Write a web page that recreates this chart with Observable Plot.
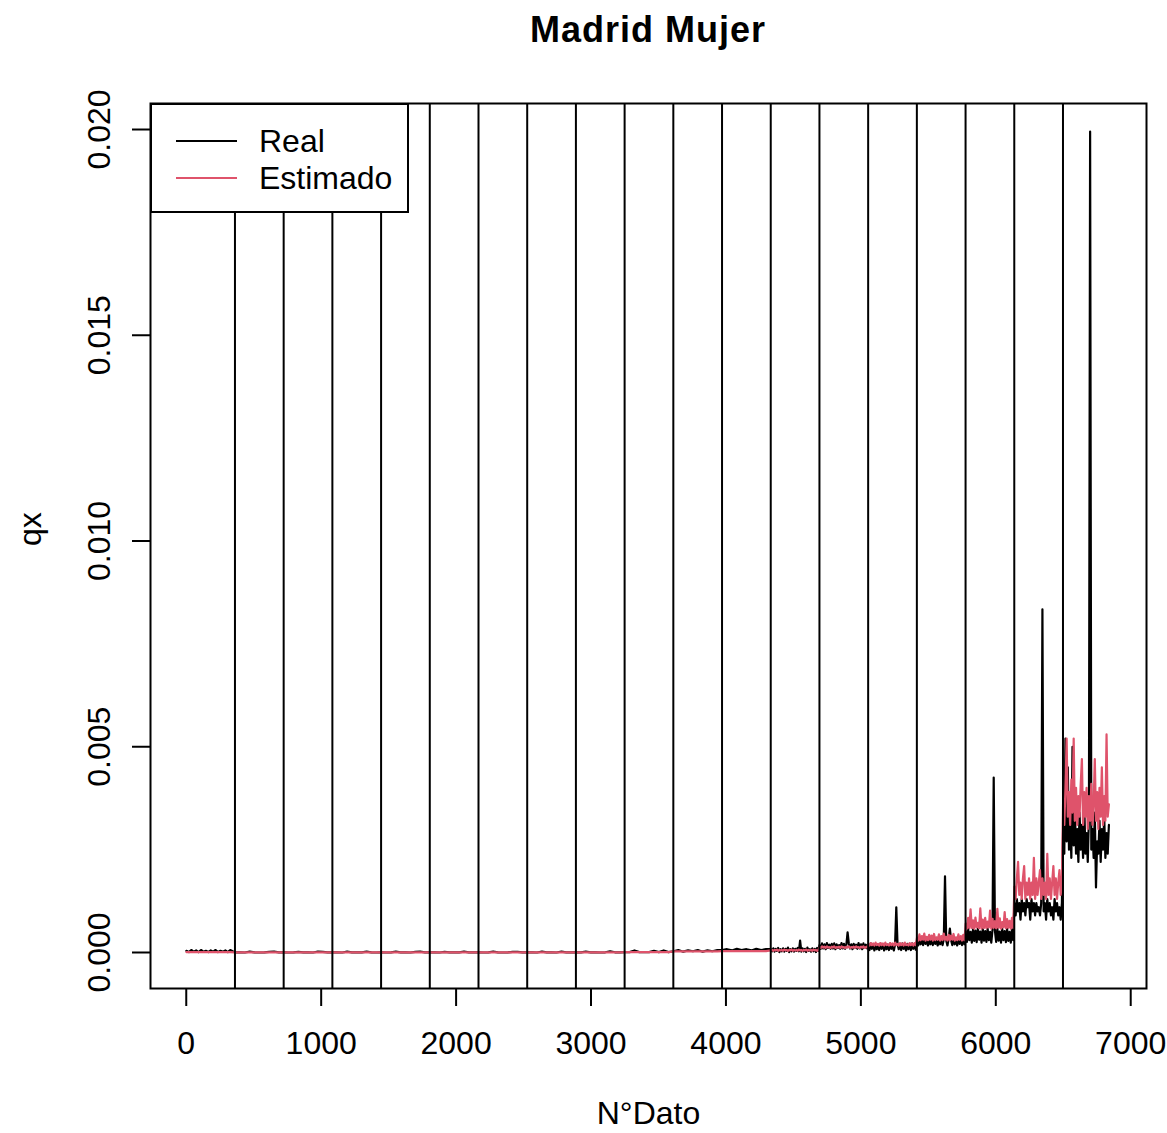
<!DOCTYPE html>
<html>
<head>
<meta charset="utf-8">
<script src="https://cdn.jsdelivr.net/npm/d3@7"></script>
<script src="https://cdn.jsdelivr.net/npm/@observablehq/plot@0.6"></script>
<style>
  body { margin: 0; background: #fff; font-family: "Liberation Sans", Arial, sans-serif; }
  #wrap { position: relative; width: 1167px; height: 1133px; overflow: hidden; }
  #title { height: 60px; line-height: 60px; padding-left: 150px; padding-right: 21px; text-align: center;
           font-weight: bold; font-size: 36px; letter-spacing: 1px; color: #000; }
  #legend { position: absolute; left: 150px; top: 103px; width: 259px; height: 110px; box-sizing: border-box;
            border: 2px solid #000; background: #fff; }
  .lline { position: absolute; left: 24px; width: 61px; height: 0; border-top: 2px solid; }
  .ltext { position: absolute; left: 107px; font-size: 32px; line-height: 36px; color: #000; }
</style>
</head>
<body>
<div id="wrap">
  <div id="title">Madrid Mujer</div>
  <div id="chart"></div>
  <div id="legend">
    <div class="lline" style="top:35px;border-color:#000"></div>
    <div class="ltext" style="top:18px">Real</div>
    <div class="lline" style="top:72px;border-color:#DF536B"></div>
    <div class="ltext" style="top:55px">Estimado</div>
  </div>
</div>
<script>
// ---- data (qx values written as qx × 10^4) ----
const xTicks = [0, 1000, 2000, 3000, 4000, 5000, 6000, 7000];
const yTicks = [0, 0.005, 0.010, 0.015, 0.020];
const vlines = [361, 722, 1083, 1444, 1805, 2166, 2527, 2888, 3249, 3610, 3971, 4332, 4693, 5054, 5415, 5776, 6137, 6498];
const blockStart = [0, 361, 722, 1083, 1444, 1805, 2166, 2527, 2888, 3249, 3610, 3971, 4332, 4693, 5054, 5415, 5776, 6137, 6498];
const blockEnd   = [361, 722, 1083, 1444, 1805, 2166, 2527, 2888, 3249, 3610, 3971, 4332, 4693, 5054, 5415, 5776, 6137, 6498, 6846];

const realBlocks = [
  [0.4,0.1,0.6,0.2,0.5,0.1,0.6,0.2,0.4,0.1,0.5,0.2,0.6,0.1,0.4,0.2,0.5,0.1,0.6,0.3],
  [0.05,0.05,0,0.2,0.05,0,0.05,0.15,0.2,0.05],
  [0.05,0,0.05,0.15,0.05,0.05,0,0.2,0.15,0.05],
  [0.05,0.05,0,0.2,0.05,0.05,0.05,0.2,0.05,0],
  [0.05,0,0.05,0.2,0.05,0.05,0,0.15,0.2,0.05],
  [0.05,0.05,0,0.15,0.05,0.05,0.05,0.2,0.05,0.05],
  [0.05,0,0.05,0.2,0.05,0,0.05,0.15,0.15,0.05],
  [0.05,0.05,0,0.2,0.05,0.05,0,0.2,0.05,0.05],
  [0.05,0.05,0.2,0.05,0.05,0,0.05,0.3,0.05,0.05],
  [0.1,0.1,0.5,0.1,0.1,0.1,0.4,0.1,0.5,0.1],
  [0.3,0.6,0.2,0.5,0.3,0.6,0.2,0.5,0.3,0.6],
  [0.6,0.8,0.5,0.9,0.6,0.8,0.5,0.9,0.6,0.8],
  [0.8,0.3,1.0,0.2,0.9,0.4,1.1,0.1,0.8,0.3,1.0,0.2,0.9,0.4,1.2,0.1,0.8,0.3,1.0,0.2,0.9,0.4,1.1,0.3,2.9,0.2,1.0,0.3,0.9,0.1,1.2,0.4,0.8,0.2,1.0,0.3,0.9,0.1,1.1,0.4],
  [1.8,0.9,2.2,1.0,2.0,0.8,2.3,1.1,1.9,0.9,2.1,1.0,2.2,0.8,2.0,1.1,1.8,0.9,2.3,1.0,2.1,0.9,1.9,4.9,2.2,1.0,2.0,0.8,2.1,1.1,1.9,0.9,2.3,1.0,2.0,0.8,2.2,1.1,1.9,1.0],
  [1.8,0.6,2.2,0.9,1.9,0.5,2.1,0.8,1.8,0.6,2.2,0.9,2.0,0.5,2.1,0.8,1.9,0.6,2.2,0.9,1.8,0.5,2.0,11.0,2.1,0.8,1.9,0.6,2.2,0.9,1.8,0.5,2.1,0.8,2.0,0.6,2.2,0.9,1.9,0.7],
  [2.8,1.7,3.4,2.0,3.0,1.8,3.3,2.1,2.9,1.7,3.4,2.0,3.1,1.8,3.3,2.1,2.8,1.7,3.4,2.0,3.0,1.8,3.2,18.5,2.9,1.7,3.3,5.8,3.0,1.8,3.4,2.0,2.9,1.7,3.3,2.1,3.0,1.8,3.4,2.0],
  [5.2,2.6,5.8,3.0,5.0,2.4,5.6,2.8,5.3,2.5,5.8,3.1,5.1,2.4,5.7,2.9,5.2,2.6,5.8,3.0,5.0,2.4,5.5,42.5,5.3,2.6,5.8,2.9,5.1,2.4,5.7,3.0,5.2,2.5,5.8,2.8,5.0,2.4,5.6,3.0],
  [12,9,13,10,12,8,13,10,12,9,13,11,12,8,13,10,12,9,12,10,11,9,12,83.4,10,12,8,13,10,12,9,11,8,13,10,12,9,11,8,12],
  [30,24,52,27,45,25,33,23,50,26,35,24,30,22,34,25,31,23,36,24,29,22,33,199.5,25,30,23,34,15.8,27,24,32,22,30,25,33,23,29,24,31]
];

const estBlocks = [
  [0.1,0.1,0.1,0.1,0.1,0.1,0.1,0.1,0.1,0.1],
  [0.05,0.05,0.05,0.05,0.05,0.05,0.05,0.05,0.05,0.05],
  [0.05,0.05,0.05,0.05,0.05,0.05,0.05,0.05,0.05,0.05],
  [0.05,0.05,0.05,0.05,0.05,0.05,0.05,0.05,0.05,0.05],
  [0.05,0.05,0.05,0.05,0.05,0.05,0.05,0.05,0.05,0.05],
  [0.05,0.05,0.05,0.05,0.05,0.05,0.05,0.05,0.05,0.05],
  [0.05,0.05,0.05,0.05,0.05,0.05,0.05,0.05,0.05,0.05],
  [0.05,0.05,0.05,0.05,0.05,0.05,0.05,0.05,0.05,0.05],
  [0.05,0.05,0.05,0.05,0.05,0.05,0.05,0.05,0.05,0.05],
  [0.1,0.1,0.1,0.1,0.1,0.1,0.1,0.1,0.1,0.1],
  [0.25,0.25,0.25,0.25,0.25,0.25,0.25,0.25,0.25,0.25],
  [0.35,0.35,0.35,0.35,0.35,0.35,0.35,0.35,0.35,0.35],
  [0.5,0.6,0.4,0.6,0.5,0.7,0.4,0.6,0.5,0.6,0.4,0.7,0.5,0.6,0.4,0.6,0.5,0.7,0.4,0.6,0.5,0.6,0.4,0.7,0.5,0.6,0.4,0.6,0.5,0.7,0.4,0.6,0.5,0.6,0.4,0.7,0.5,0.6,0.4,0.6],
  [1.3,1.1,1.5,1.2,1.4,1.1,1.5,1.2,1.3,1.1,1.4,1.2,1.5,1.1,1.3,1.2,1.4,1.1,1.5,1.2,1.3,1.1,1.4,1.2,1.5,1.1,1.3,1.2,1.4,1.1,1.5,1.2,1.3,1.1,1.4,1.2,1.5,1.1,1.3,1.2],
  [2.0,1.7,2.3,1.8,2.2,1.7,2.4,1.8,2.1,1.7,2.3,1.8,2.2,1.7,2.4,1.8,2.0,1.7,2.3,1.8,2.2,1.7,2.4,1.8,2.1,1.7,2.3,1.8,2.2,1.7,2.4,1.8,2.0,1.7,2.3,1.8,2.2,1.7,2.3,1.8],
  [3.6,2.9,4.4,3.0,4.0,3.1,4.6,2.9,3.8,3.0,4.3,3.1,4.1,2.9,4.5,3.0,3.7,3.1,4.4,2.9,4.0,3.0,4.6,3.1,3.8,2.9,4.3,3.0,4.1,3.1,4.5,2.9,3.7,3.0,4.4,3.1,4.0,2.9,4.3,3.0],
  [7.0,5.8,8.4,5.9,10.5,6.0,7.8,5.8,8.5,6.1,7.2,5.9,10.7,5.8,8.0,6.0,8.4,5.9,7.5,6.1,10.2,5.8,8.2,6.0,7.6,5.9,10.6,6.0,8.3,5.8,7.4,6.1,9.8,5.9,8.1,6.0,7.7,5.8,8.4,6.0],
  [16,13,18,22,14,17,13,18,21,13,17,14,18,13,17,14,23,13,18,14,17,20,13,18,14,17,13,24,14,18,13,17,21,14,18,13,17,20,14,17],
  [37,31,40,52,33,39,31,42,34,52,32,40,31,38,33,41,47,31,39,33,40,30,38,32,41,31,36,47,32,39,30,40,33,45,31,38,32,53,33,36]
];

// build rows: each block's readings placed along its range of N°Dato
function rowsFor(blocks) {
  const out = [];
  blocks.forEach((vals, b) => {
    const step = (blockEnd[b] - blockStart[b]) / vals.length;
    vals.forEach((v, i) => out.push({dato: blockStart[b] + 1 + i * step, qx: v / 1e4}));
  });
  return out;
}
const realRows = rowsFor(realBlocks);
const estRows = rowsFor(estBlocks);

const FS = 32;
const chart = Plot.plot({
  width: 1167,
  height: 1073,
  marginTop: 43,
  marginBottom: 145,
  marginLeft: 150,
  marginRight: 21,
  x: {domain: [-265, 7117]},
  y: {domain: [-0.000875, 0.020632]},
  style: {fontFamily: "'Liberation Sans', Arial, sans-serif", background: "white", color: "black"},
  marks: [
    Plot.line(realRows, {x: "dato", y: "qx", stroke: "#000000", strokeWidth: 2.2}),
    Plot.line(estRows, {x: "dato", y: "qx", stroke: "#DF536B", strokeWidth: 2.2}),
    Plot.ruleX(vlines, {stroke: "#000", strokeWidth: 2}),
    Plot.frame({stroke: "#000", strokeWidth: 2}),
    Plot.axisX(xTicks, {tickSize: 18, tickPadding: 25, tickFormat: "d", fontSize: FS, label: null, strokeWidth: 2}),
    Plot.axisY(yTicks, {tickSize: 18, tickFormat: () => "", label: null, strokeWidth: 2}),
    Plot.text(yTicks, {y: d => d, text: d => d.toFixed(3), frameAnchor: "left", dx: -41, rotate: -90,
                       textAnchor: "middle", lineAnchor: "bottom", fontSize: FS, fill: "#000"}),
    Plot.text(["N°Dato"], {frameAnchor: "bottom", dy: 125, text: d => d, fontSize: FS, lineAnchor: "middle", fill: "#000"}),
    Plot.text(["qx"], {frameAnchor: "left", dx: -120, rotate: -90, text: d => d, fontSize: FS, lineAnchor: "middle", fill: "#000"})
  ]
});
document.getElementById("chart").appendChild(chart);
</script>
</body>
</html>
